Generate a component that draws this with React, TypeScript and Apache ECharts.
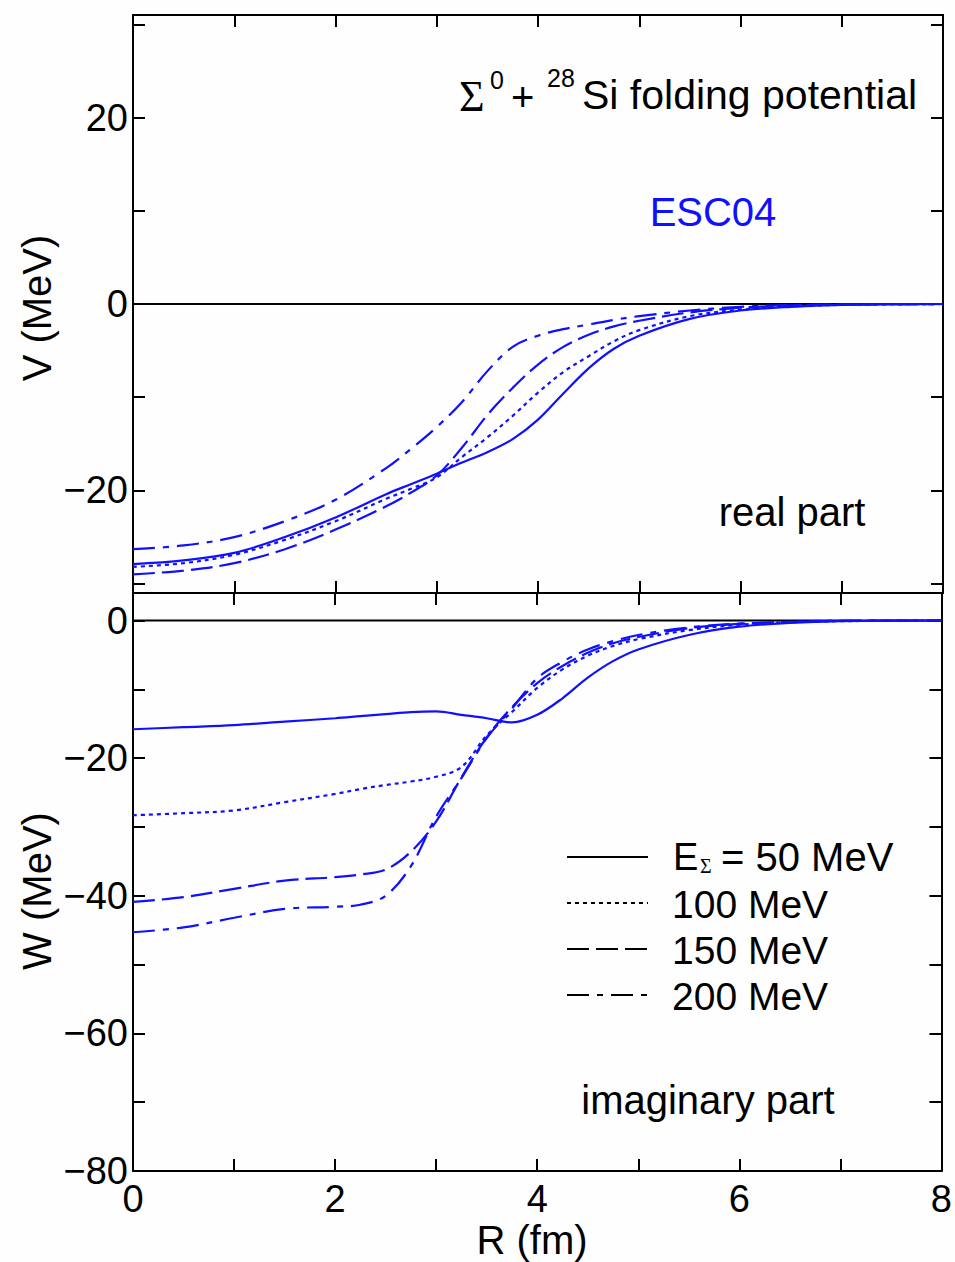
import React, { useEffect, useRef } from "react";
import * as echarts from "echarts";

// ---------- data ----------
const R_REAL = [0, 0.5, 1, 1.5, 2, 2.5, 2.75, 3, 3.25, 3.5, 3.75, 4, 4.25, 4.5, 4.75, 5, 5.5, 6, 6.5, 7, 8];
const V_50 = [-27.9, -27.5, -26.7, -25.0, -22.9, -20.4, -19.3, -18.2, -17.0, -15.9, -14.5, -12.4, -9.6, -6.9, -4.8, -3.4, -1.6, -0.7, -0.3, -0.1, 0];
const V_100 = [-28.2, -27.8, -26.9, -25.3, -23.3, -20.9, -19.8, -18.6, -16.4, -14.3, -12.0, -9.5, -7.3, -5.6, -4.0, -2.8, -1.3, -0.6, -0.25, -0.1, 0];
const V_150 = [-29.0, -28.6, -27.8, -26.3, -24.2, -21.7, -20.2, -18.4, -15.4, -11.9, -9.0, -6.5, -4.6, -3.3, -2.4, -1.8, -0.9, -0.4, -0.15, -0.05, 0];
const V_200 = [-26.3, -25.9, -25.0, -23.3, -21.0, -17.6, -15.5, -13.2, -10.5, -7.2, -4.6, -3.4, -2.7, -2.2, -1.7, -1.3, -0.7, -0.3, -0.1, -0.05, 0];

const R_IMAG = [0, 0.5, 1, 1.5, 2, 2.25, 2.5, 2.75, 3, 3.25, 3.5, 3.75, 4, 4.25, 4.5, 4.75, 5, 5.5, 6, 6.5, 7, 8];
const W_50 = [-15.8, -15.5, -15.2, -14.7, -14.2, -13.9, -13.6, -13.3, -13.2, -13.7, -14.2, -14.8, -13.7, -11.3, -8.3, -5.9, -4.2, -2.1, -0.9, -0.35, -0.1, 0];
const W_100 = [-28.3, -28.0, -27.6, -26.4, -25.2, -24.5, -23.9, -23.4, -22.7, -21.3, -16.7, -13.3, -9.8, -7.1, -5.1, -3.7, -2.7, -1.4, -0.6, -0.25, -0.1, 0];
const W_150 = [-40.9, -40.2, -39.0, -37.8, -37.3, -36.9, -36.2, -33.6, -29.2, -22.8, -17.0, -12.6, -9.1, -6.6, -4.7, -3.3, -2.4, -1.1, -0.5, -0.2, -0.05, 0];
const W_200 = [-45.3, -44.6, -43.2, -41.9, -41.6, -41.3, -40.0, -35.7, -28.5, -22.9, -17.1, -12.8, -8.4, -6.0, -4.2, -3.0, -2.1, -1.0, -0.45, -0.2, -0.05, 0];

const ZERO_LINE = [[0, 0], [8, 0]];

const X_TICKS = [0, 1, 2, 3, 4, 5, 6, 7, 8];
const X_LABELS = [0, 2, 4, 6, 8];
const V_TICKS = [-30, -20, -10, 0, 10, 20, 30];
const V_LABELS = [-20, 0, 20];
const W_TICKS = [-80, -70, -60, -50, -40, -30, -20, -10, 0];
const W_LABELS = [-80, -60, -40, -20, 0];

const LEGEND_NAMES = ["= 50 MeV", "100 MeV", "150 MeV", "200 MeV"];

// ---------- styles ----------
const FONT = '"Liberation Sans", Arial, Helvetica, sans-serif';
const SERIF = '"Liberation Serif", "DejaVu Serif", serif';
const BLUE = "#1010ff";
const DASHES: any[] = ["solid", [4, 4], [22, 7], [22, 8, 6, 8]];

const fmt = (v: number) => (v < 0 ? "\u2212" + Math.abs(v) : String(v));

function xAxis(grid: number, position: string, labels: boolean) {
  return {
    type: "value",
    gridIndex: grid,
    position,
    min: 0,
    max: 8,
    interval: 1,
    axisLine: { show: true, onZero: false, lineStyle: { color: "#000", width: 2 } },
    axisTick: { show: true, inside: true, length: 12, customValues: X_TICKS, lineStyle: { color: "#000", width: 2 } },
    axisLabel: labels
      ? { show: true, customValues: X_LABELS, fontSize: 38, color: "#000", fontFamily: FONT, margin: 9, formatter: fmt }
      : { show: false },
    splitLine: { show: false },
  };
}

function yAxis(grid: number, position: string, min: number, max: number, ticks: number[], labels: number[] | null) {
  return {
    type: "value",
    gridIndex: grid,
    position,
    min,
    max,
    axisLine: { show: true, onZero: false, lineStyle: { color: "#000", width: 2 } },
    axisTick: { show: true, inside: true, length: 12, customValues: ticks, lineStyle: { color: "#000", width: 2 } },
    axisLabel: labels
      ? { show: true, customValues: labels, fontSize: 38, color: "#000", fontFamily: FONT, margin: 5, formatter: fmt }
      : { show: false },
    splitLine: { show: false },
  };
}

function curve(name: string, xs: number[], ys: number[], grid: number, dash: any) {
  return {
    type: "line",
    name,
    xAxisIndex: grid === 0 ? 0 : 2,
    yAxisIndex: grid === 0 ? 0 : 2,
    data: xs.map((x, i) => [x, ys[i]]),
    symbol: "none",
    showSymbol: false,
    smooth: 0.35,
    lineStyle: { color: BLUE, width: 2.2, type: dash },
    z: 3,
  };
}

function txt(text: string, x: number, y: number, size: number, opts: any = {}) {
  return {
    type: "text",
    x,
    y,
    rotation: opts.rotation || 0,
    style: {
      text,
      fontSize: size,
      fontFamily: opts.family || FONT,
      fill: opts.fill || "#000",
      align: opts.align || "left",
      verticalAlign: "middle",
    },
    z: 10,
  };
}

export default function App() {
  const ref = useRef<HTMLDivElement>(null);
  useEffect(() => {
    const chart = echarts.init(ref.current!, null, { renderer: "svg" });
    const legendY = [857, 903, 949, 995];
    const option: any = {
      animation: false,
      backgroundColor: "#fdfefd",
      grid: [
        { left: 133, top: 15, width: 810, height: 578 },
        { left: 133, top: 593, width: 810, height: 578 },
      ],
      xAxis: [xAxis(0, "bottom", false), xAxis(0, "top", false), xAxis(1, "bottom", true), xAxis(1, "top", false)],
      yAxis: [
        yAxis(0, "left", -31, 31, V_TICKS, V_LABELS),
        yAxis(0, "right", -31, 31, V_TICKS, null),
        yAxis(1, "left", -80, 4, W_TICKS, W_LABELS),
        yAxis(1, "right", -80, 4, W_TICKS, null),
      ],
      series: [
        { type: "line", xAxisIndex: 0, yAxisIndex: 0, data: ZERO_LINE, symbol: "none", lineStyle: { color: "#000", width: 2 }, z: 2 },
        { type: "line", xAxisIndex: 2, yAxisIndex: 2, data: ZERO_LINE, symbol: "none", lineStyle: { color: "#000", width: 2 }, z: 2 },
        curve("V 50", R_REAL, V_50, 0, DASHES[0]),
        curve("V 100", R_REAL, V_100, 0, DASHES[1]),
        curve("V 150", R_REAL, V_150, 0, DASHES[2]),
        curve("V 200", R_REAL, V_200, 0, DASHES[3]),
        curve("W 50", R_IMAG, W_50, 1, DASHES[0]),
        curve("W 100", R_IMAG, W_100, 1, DASHES[1]),
        curve("W 150", R_IMAG, W_150, 1, DASHES[2]),
        curve("W 200", R_IMAG, W_200, 1, DASHES[3]),
      ],
      graphic: [
        // title
        txt("\u03A3", 459, 96, 44, { family: SERIF }),
        txt("0", 490, 80, 25),
        txt("+", 511, 97, 40),
        txt("28", 547, 78, 25),
        txt("Si folding potential", 582, 95, 41),
        txt("ESC04", 713, 212, 40, { fill: BLUE, align: "center" }),
        txt("real part", 792, 512, 40, { align: "center" }),
        txt("imaginary part", 708, 1100, 40, { align: "center" }),
        // axis titles
        txt("V (MeV)", 37, 308, 40, { align: "center", rotation: Math.PI / 2 }),
        txt("W (MeV)", 37, 891, 40, { align: "center", rotation: Math.PI / 2 }),
        txt("R (fm)", 532, 1240, 40, { align: "center" }),
        // legend
        ...legendY.map((y, i) => ({
          type: "line",
          shape: { x1: 567, y1: y, x2: 648, y2: y },
          style: { stroke: "#000", lineWidth: 2, lineDash: i === 0 ? null : DASHES[i] },
          z: 10,
        })),
        txt("E", 673, 857, 38),
        txt("\u03A3", 700, 866, 20, { family: SERIF }),
        txt(LEGEND_NAMES[0], 721, 857, 40),
        txt(LEGEND_NAMES[1], 672, 904, 39),
        txt(LEGEND_NAMES[2], 672, 950, 39),
        txt(LEGEND_NAMES[3], 672, 996, 39),
      ],
    };
    chart.setOption(option);
    return () => chart.dispose();
  }, []);
  return (
    <div
      ref={ref}
      style={{ position: "absolute", left: 0, top: 0, width: 955, height: 1262 }}
    />
  );
}
